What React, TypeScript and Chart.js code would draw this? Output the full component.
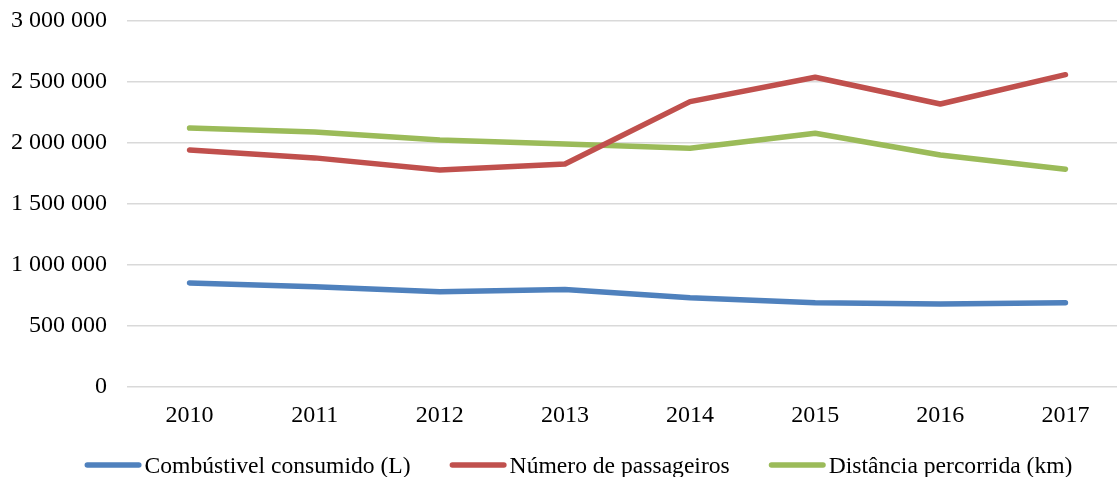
import React, { useEffect, useRef } from "react";
import { Chart, registerables } from "chart.js";

Chart.register(...registerables);

const years = ["2010", "2011", "2012", "2013", "2014", "2015", "2016", "2017"];
const combustivel = [853000, 822000, 781000, 800000, 732000, 691000, 680000, 691000];
const passageiros = [1943000, 1878000, 1779000, 1828000, 2339000, 2539000, 2320000, 2560000];
const distancia = [2123000, 2090000, 2025000, 1992000, 1957000, 2080000, 1902000, 1785000];
const seriesNames = ["Combústivel consumido (L)", "Número de passageiros", "Distância percorrida (km)"];
const seriesColors = ["#4F81BD", "#C0504D", "#9BBB59"];

const FONT_FAMILY = "'Liberation Serif', 'Times New Roman', serif";

const fmt = (v: number) => String(Math.round(v)).replace(/\B(?=(\d{3})+(?!\d))/g, " ");

const legendPlugin = {
  id: "bottomLegend",
  afterDraw(chart: any) {
    const ctx = chart.ctx as CanvasRenderingContext2D;
    const y = 465;
    const lineW = 57;
    const gapText = 3;
    const gapItem = 39;
    ctx.save();
    ctx.font = `23.6px ${FONT_FAMILY}`;
    ctx.textBaseline = "middle";
    const items = chart.data.datasets.map((ds: any) => ({
      label: ds.label as string,
      color: ds.borderColor as string,
      w: ctx.measureText(ds.label).width,
    }));
    const total = items.reduce((s: number, it: any) => s + lineW + gapText + it.w, 0) + gapItem * (items.length - 1);
    let x = 578.5 - total / 2;
    items.forEach((it: any) => {
      ctx.strokeStyle = it.color;
      ctx.lineWidth = 5.5;
      ctx.lineCap = "round";
      ctx.beginPath();
      ctx.moveTo(x + 2.75, y);
      ctx.lineTo(x + lineW - 2.75, y);
      ctx.stroke();
      x += lineW + gapText;
      ctx.fillStyle = "#000";
      ctx.fillText(it.label, x, y + 1.5);
      x += it.w + gapItem;
    });
    ctx.restore();
  },
};

export default function App() {
  const ref = useRef<HTMLCanvasElement | null>(null);
  useEffect(() => {
    if (!ref.current) return;
    const font = { family: FONT_FAMILY, size: 24 };
    const data = [combustivel, passageiros, distancia];
    const chart = new Chart(ref.current, {
      type: "line",
      data: {
        labels: years,
        datasets: data.map((d, i) => ({
          label: seriesNames[i],
          data: d,
          borderColor: seriesColors[i],
          backgroundColor: seriesColors[i],
          borderWidth: 5.5,
          pointRadius: 0,
          tension: 0,
          borderCapStyle: "round" as const,
          borderJoinStyle: "round" as const,
        })),
      },
      options: {
        animation: false,
        responsive: false,
        maintainAspectRatio: false,
        layout: { padding: { top: 0, right: 0, bottom: 45, left: 0 } },
        plugins: {
          tooltip: { enabled: false },
          legend: { display: false },
        },
        scales: {
          x: {
            offset: true,
            afterFit: (s: any) => {
              s.height = 45;
            },
            grid: { display: false, drawTicks: false },
            border: { display: false },
            ticks: { font, color: "#000", padding: 14 },
          },
          y: {
            min: 0,
            max: 3000000,
            afterFit: (s: any) => {
              s.width = 127;
            },
            grid: { color: "#D9D9D9", lineWidth: 1.5, drawTicks: true, tickLength: 13.4, tickColor: "rgba(0,0,0,0)" },
            border: { display: false },
            ticks: { font, color: "#000", padding: 6.6, stepSize: 500000, callback: (v: any) => fmt(Number(v)) },
          },
        },
      },
      plugins: [legendPlugin],
    });
    return () => chart.destroy();
  }, []);
  return (
    <div style={{ position: "fixed", left: 0, top: 0, width: 1117, height: 477, overflow: "hidden", background: "#fff" }}>
      <canvas ref={ref} width={1128} height={477} style={{ display: "block" }} />
    </div>
  );
}
